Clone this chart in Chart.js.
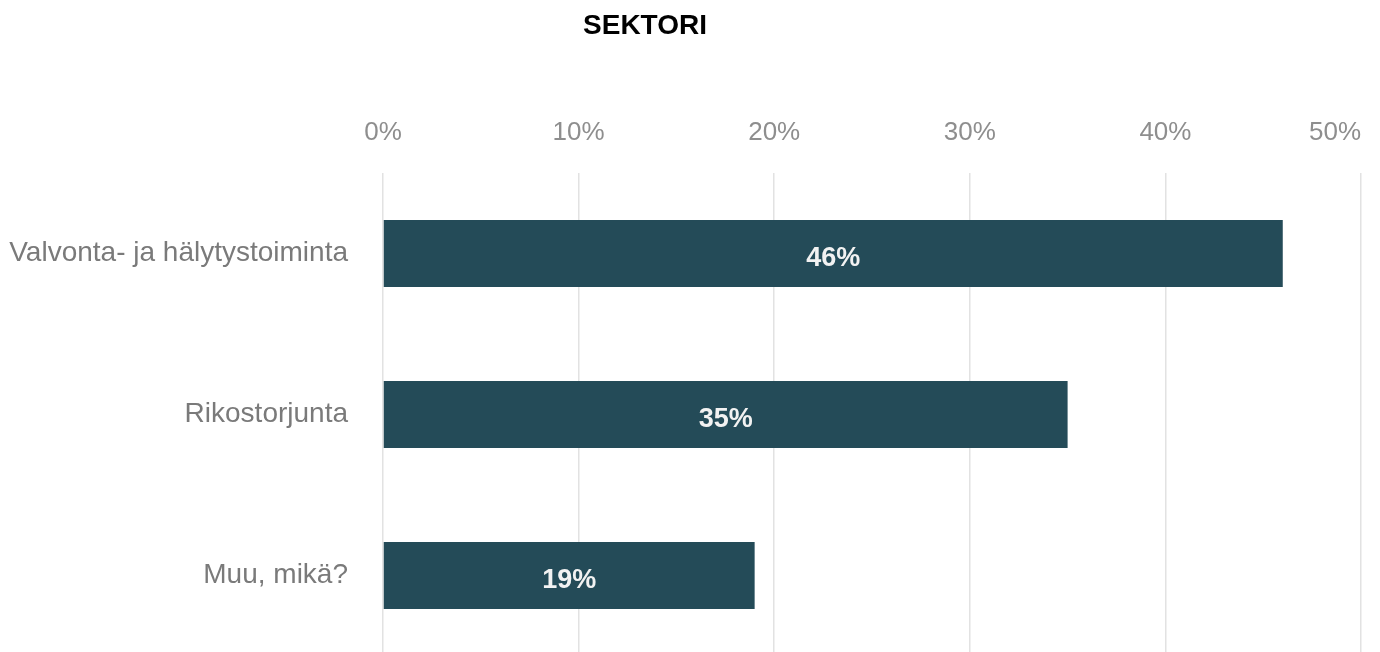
<!DOCTYPE HTML>
<html>

<head>
  <meta charset="utf-8" />
  <script src="https://cdn.jsdelivr.net/npm/chart.js@4.4.1/dist/chart.umd.min.js"></script>
  <style>
    html, body {
      margin: 0;
      padding: 0;
      background: #ffffff;
      overflow: hidden;
    }

    .chart-box {
      position: relative;
      width: 1380px;
      height: 656px;
    }
  </style>
</head>

<body>
  <div class="chart-box"><canvas id="chart-sektori"></canvas></div>
</body>
<script>
  // data
  var chartTitle = 'SEKTORI';
  var categories = ['Valvonta- ja hälytystoiminta', 'Rikostorjunta', 'Muu, mikä?'];
  var shares = [46, 35, 19];
  var barLabels = ['46%', '35%', '19%'];
  var xTicks = [0, 10, 20, 30, 40, 50];

  var fontFamily = '"Liberation Sans", Arial, Helvetica, sans-serif';
  var tickColor = '#8e8e8e';
  var lastTick = xTicks[xTicks.length - 1];

  // title drawn off-centre like in the source picture
  var titlePlugin = {
    id: 'sideTitle',
    afterDraw: function (chart) {
      var ctx = chart.ctx;
      ctx.save();
      ctx.font = 'bold 28px ' + fontFamily;
      ctx.fillStyle = '#000000';
      ctx.textAlign = 'center';
      ctx.textBaseline = 'middle';
      ctx.fillText(chartTitle, 645, 26);
      ctx.restore();
    }
  };

  // last x tick label is pulled in so it ends on its grid line
  var lastTickPlugin = {
    id: 'lastTick',
    afterDraw: function (chart) {
      var sx = chart.scales.x;
      var ctx = chart.ctx;
      ctx.save();
      ctx.font = '26px ' + fontFamily;
      ctx.fillStyle = tickColor;
      ctx.textAlign = 'right';
      ctx.textBaseline = 'middle';
      ctx.fillText(lastTick + '%', sx.getPixelForValue(lastTick), 133);
      ctx.restore();
    }
  };

  // value text in the middle of each bar
  var barTextPlugin = {
    id: 'barText',
    afterDatasetsDraw: function (chart) {
      var ctx = chart.ctx;
      var meta = chart.getDatasetMeta(0);
      ctx.save();
      ctx.font = 'bold 27px ' + fontFamily;
      ctx.fillStyle = '#f2f2f2';
      ctx.textAlign = 'center';
      ctx.textBaseline = 'middle';
      meta.data.forEach(function (bar, i) {
        var cx = (bar.x + bar.base) / 2;
        ctx.fillText(barLabels[i], cx, bar.y + 5);
      });
      ctx.restore();
    }
  };

  var ctxS = document.getElementById('chart-sektori');
  var chartS = new Chart(ctxS, {
    type: 'bar',
    data: {
      labels: categories,
      datasets: [{
        data: shares,
        backgroundColor: '#244b58',
        borderWidth: 0,
        categoryPercentage: 1,
        barPercentage: 0.416
      }]
    },
    options: {
      indexAxis: 'y',
      responsive: true,
      maintainAspectRatio: false,
      animation: false,
      layout: {
        padding: { top: 0, left: 0, right: 0, bottom: 0 }
      },
      scales: {
        x: {
          position: 'top',
          min: 0,
          max: lastTick,
          afterBuildTicks: function (scale) {
            scale.ticks = xTicks.map(function (v) { return { value: v }; });
          },
          afterFit: function (scale) {
            scale.height = 173;
            scale.paddingRight = 19;
          },
          border: { display: false },
          grid: {
            color: '#e2e2e2',
            lineWidth: 1.5,
            drawTicks: false
          },
          ticks: {
            padding: 25,
            color: tickColor,
            font: { family: fontFamily, size: 26 },
            callback: function (v) { return v === lastTick ? '' : v + '%'; }
          }
        },
        y: {
          afterFit: function (scale) {
            scale.width = 383;
            scale.paddingTop = 0;
            scale.paddingBottom = 0;
          },
          border: { display: false },
          grid: { display: false, drawTicks: false },
          ticks: {
            padding: 35,
            color: '#7a7a7a',
            font: { family: fontFamily, size: 28 }
          }
        }
      },
      plugins: {
        legend: { display: false },
        tooltip: { enabled: false },
        title: { display: false }
      }
    },
    plugins: [titlePlugin, lastTickPlugin, barTextPlugin]
  });
</script>

</html>
